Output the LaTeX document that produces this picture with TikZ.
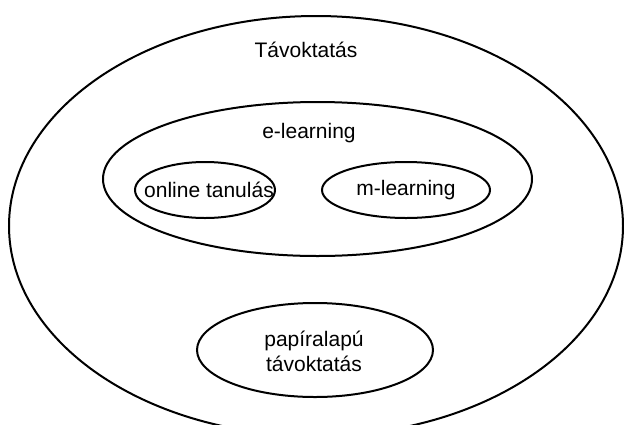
\documentclass[tikz,border=0pt]{standalone}
\usepackage{fontspec}
\setmainfont{Liberation Sans}
\usetikzlibrary{shapes.geometric}
\begin{document}
\begin{tikzpicture}[x=1pt,y=-1pt,
  oval/.style={draw=black,line width=2pt,ellipse,inner sep=0pt,outer sep=0pt},
  lbl/.style={font=\fontsize{21}{25}\selectfont,inner sep=0pt,align=center}]
\useasboundingbox (0,0) rectangle (624,424);
\clip (0,0) rectangle (624,424);
\fill[white] (0,0) rectangle (624,424);
\node[oval,minimum width=614pt,minimum height=420pt] (outer) at (316,226) {};
\node[lbl] (tavt) at (306,50) {Távoktatás};
\node[oval,minimum width=429pt,minimum height=154pt] (el) at (317.5,179) {};
\node[lbl] (elt) at (309,133) {e-learning};
\node[oval,minimum width=140pt,minimum height=56pt] (ot) at (205,190) {};
\node[lbl] (ott) at (209,190) {online tanulás};
\node[oval,minimum width=168pt,minimum height=56pt] (ml) at (406,190) {};
\node[lbl] (mlt) at (406,190) {m-learning};
\node[oval,minimum width=236pt,minimum height=94pt] (pp) at (315,350) {};
\node[lbl] (ppt) at (314,351) {papíralapú\\távoktatás};
\end{tikzpicture}
\end{document}
